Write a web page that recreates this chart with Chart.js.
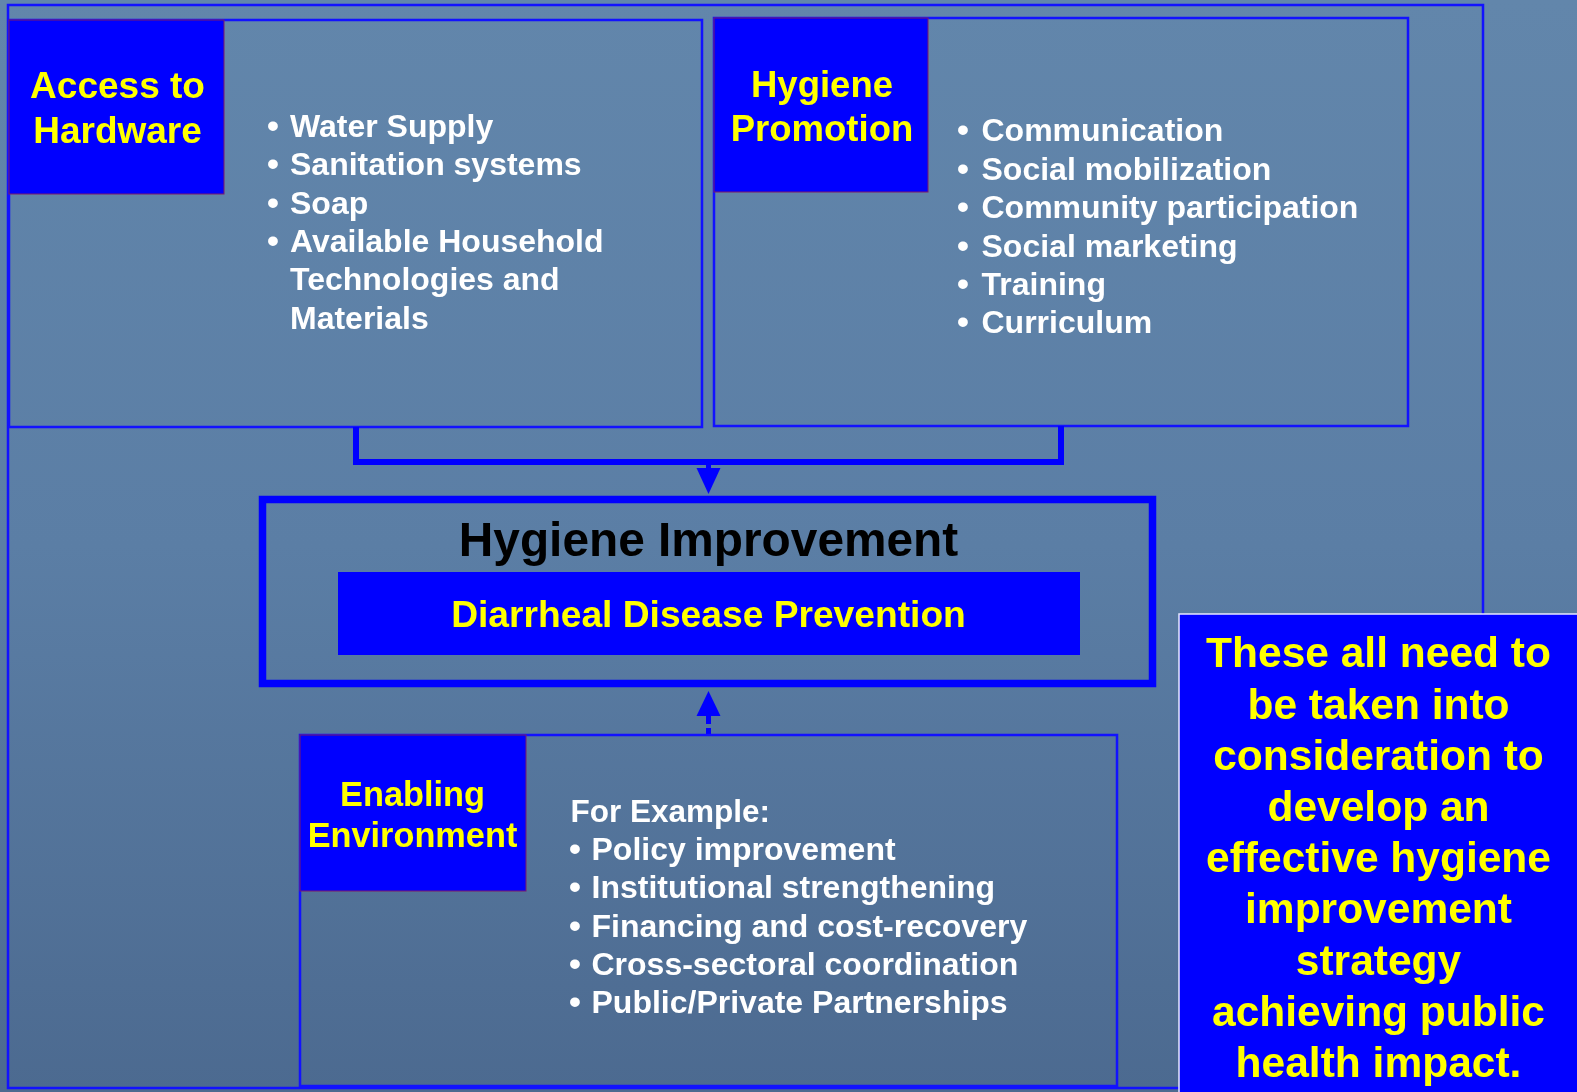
<!DOCTYPE html>
<html><head><meta charset="utf-8">
<script src="https://cdn.jsdelivr.net/npm/chart.js@4"></script>
<style>html,body{margin:0;padding:0;background:#5b7ea4;overflow:hidden}#wrap{width:1577px;height:1092px}canvas{display:block}</style>
</head><body><div id="wrap"><canvas id="c" width="1577" height="1092"></canvas></div>
<script>
// ---- content (text data) ----
const hardwareTitle = ["Access to", "Hardware"];
const hardwareItems = [["Water Supply"], ["Sanitation systems"], ["Soap"], ["Available Household", "Technologies and", "Materials"]];
const promotionTitle = ["Hygiene", "Promotion"];
const promotionItems = [["Communication"], ["Social mobilization"], ["Community participation"], ["Social marketing"], ["Training"], ["Curriculum"]];
const centerTitle = "Hygiene Improvement";
const centerSubtitle = "Diarrheal Disease Prevention";
const enablingTitle = ["Enabling", "Environment"];
const enablingIntro = "For Example:";
const enablingItems = [["Policy improvement"], ["Institutional strengthening"], ["Financing and cost-recovery"], ["Cross-sectoral coordination"], ["Public/Private Partnerships"]];
const calloutLines = ["These all need to", "be taken into", "consideration to", "develop an", "effective hygiene", "improvement", "strategy", "achieving public", "health impact."];

// ---- layout (diagram units, mapped through chart scales) ----
const layout = {
  frame: {x0: 8, y0: 5, x1: 1483, y1: 1088},
  boxA: {x0: 9, y0: 20, x1: 702, y1: 427}, headA: {x0: 9, y0: 20, x1: 224, y1: 194},
  boxB: {x0: 714, y0: 18, x1: 1408, y1: 426}, headB: {x0: 714, y0: 18, x1: 928, y1: 192},
  connector: [[356, 427], [356, 462], [1061, 462], [1061, 426]],
  center: {x0: 262.5, y0: 499.5, x1: 1152.5, y1: 683.5},
  inner: {x0: 338, y0: 572, x1: 1080, y1: 655},
  boxC: {x0: 300, y0: 735, x1: 1117, y1: 1086}, headC: {x0: 300, y0: 735, x1: 526, y1: 891},
  callout: {x0: 1179, y0: 614, x1: 1585, y1: 1100}
};
const FONT = "'Liberation Sans', Arial, Helvetica, sans-serif";

const bgPlugin = {
  id: 'bg',
  beforeDraw(chart) {
    const ctx = chart.ctx, w = chart.width, h = chart.height;
    const g = ctx.createLinearGradient(0, 0, 0, h);
    g.addColorStop(0, '#6286ab');
    g.addColorStop(0.5, '#5b7ea5');
    g.addColorStop(1, '#4c6a90');
    ctx.save(); ctx.fillStyle = g; ctx.fillRect(0, 0, w, h); ctx.restore();
  }
};

const diagramPlugin = {
  id: 'diagram',
  afterDatasetsDraw(chart) {
    const ctx = chart.ctx;
    const xs = chart.scales.x, ys = chart.scales.y;
    const X = v => xs.getPixelForValue(v), Y = v => ys.getPixelForValue(v);
    const rect = (r, fill, stroke, lw) => {
      const x = X(r.x0), y = Y(r.y0), w = X(r.x1) - x, h = Y(r.y1) - y;
      if (fill) { ctx.fillStyle = fill; ctx.fillRect(x, y, w, h); }
      if (stroke) { ctx.strokeStyle = stroke; ctx.lineWidth = lw; ctx.strokeRect(x, y, w, h); }
    };
    const text = (s, x, y, size, color, align, weight) => {
      ctx.font = (weight || 'bold') + ' ' + size + 'px ' + FONT;
      ctx.fillStyle = color; ctx.textAlign = align || 'left'; ctx.textBaseline = 'alphabetic';
      ctx.fillText(s, X(x), Y(y));
    };
    const bullets = (items, bx, tx, y0, step, size) => {
      let y = y0;
      items.forEach(lines => {
        text('\u2022', bx, y, size + 2, '#ffffff');
        lines.forEach(l => { text(l, tx, y, size, '#ffffff'); y += step; });
      });
    };
    const L = layout;
    ctx.save();
    ctx.lineJoin = 'miter';
    rect(L.frame, null, '#1212ff', 2.5);
    rect(L.boxA, null, '#1212ff', 2.5);
    rect(L.boxB, null, '#1212ff', 2.5);
    rect(L.headA, '#0000ff', '#7a1a6a', 1);
    rect(L.headB, '#0000ff', '#7a1a6a', 1);
    ctx.strokeStyle = '#0000ff'; ctx.lineWidth = 6;
    ctx.beginPath();
    L.connector.forEach((p, i) => i ? ctx.lineTo(X(p[0]), Y(p[1])) : ctx.moveTo(X(p[0]), Y(p[1])));
    ctx.stroke();
    ctx.fillStyle = '#0000ff';
    ctx.fillRect(X(706), Y(462), 5, Y(469) - Y(462));
    ctx.beginPath(); ctx.moveTo(X(696.5), Y(468)); ctx.lineTo(X(720.5), Y(468)); ctx.lineTo(X(708.5), Y(494)); ctx.closePath(); ctx.fill();
    rect(L.center, null, '#0000ff', 7.5);
    rect(L.inner, '#0000ff', null, 0);
    ctx.fillStyle = '#0000ff';
    ctx.beginPath(); ctx.moveTo(X(696.5), Y(716)); ctx.lineTo(X(720.5), Y(716)); ctx.lineTo(X(708.5), Y(691)); ctx.closePath(); ctx.fill();
    ctx.fillRect(X(706), Y(716), 5, Y(724) - Y(716));
    ctx.fillRect(X(706), Y(728), 5, Y(736) - Y(728));
    rect(L.boxC, null, '#1212ff', 2.5);
    rect(L.headC, '#0000ff', '#7a1a6a', 1);
    rect(L.callout, '#0000ff', '#e8e8ff', 1.5);

    hardwareTitle.forEach((s, i) => text(s, 117.5, 97.7 + 45 * i, 37, '#ffff00', 'center'));
    bullets(hardwareItems, 267, 290, 136.7, 38.4, 32);
    promotionTitle.forEach((s, i) => text(s, 822, 96.7 + 44.3 * i, 36.5, '#ffff00', 'center'));
    bullets(promotionItems, 957, 981.5, 141.4, 38.4, 32);
    text(centerTitle, 708.5, 556, 47.8, '#000000', 'center');
    text(centerSubtitle, 708.5, 627, 37.2, '#ffff00', 'center');
    enablingTitle.forEach((s, i) => text(s, 412.5, 806 + 41 * i, 34.3, '#ffff00', 'center'));
    text(enablingIntro, 570.5, 821.7, 31.5, '#ffffff');
    bullets(enablingItems, 569, 591.5, 860, 38.3, 32);
    calloutLines.forEach((s, i) => text(s, 1378.5, 667.3 + 51.2 * i, 42.5, '#ffff00', 'center'));
    ctx.restore();
  }
};

new Chart(document.getElementById('c'), {
  type: 'scatter',
  data: {datasets: [{data: []}]},
  options: {
    responsive: false, animation: false, devicePixelRatio: 1,
    layout: {padding: 0},
    plugins: {legend: {display: false}, tooltip: {enabled: false}, title: {display: false}},
    scales: {
      x: {type: 'linear', min: 0, max: 1577, display: false},
      y: {type: 'linear', min: 0, max: 1092, reverse: true, display: false}
    }
  },
  plugins: [bgPlugin, diagramPlugin]
});
</script>
</body></html>
